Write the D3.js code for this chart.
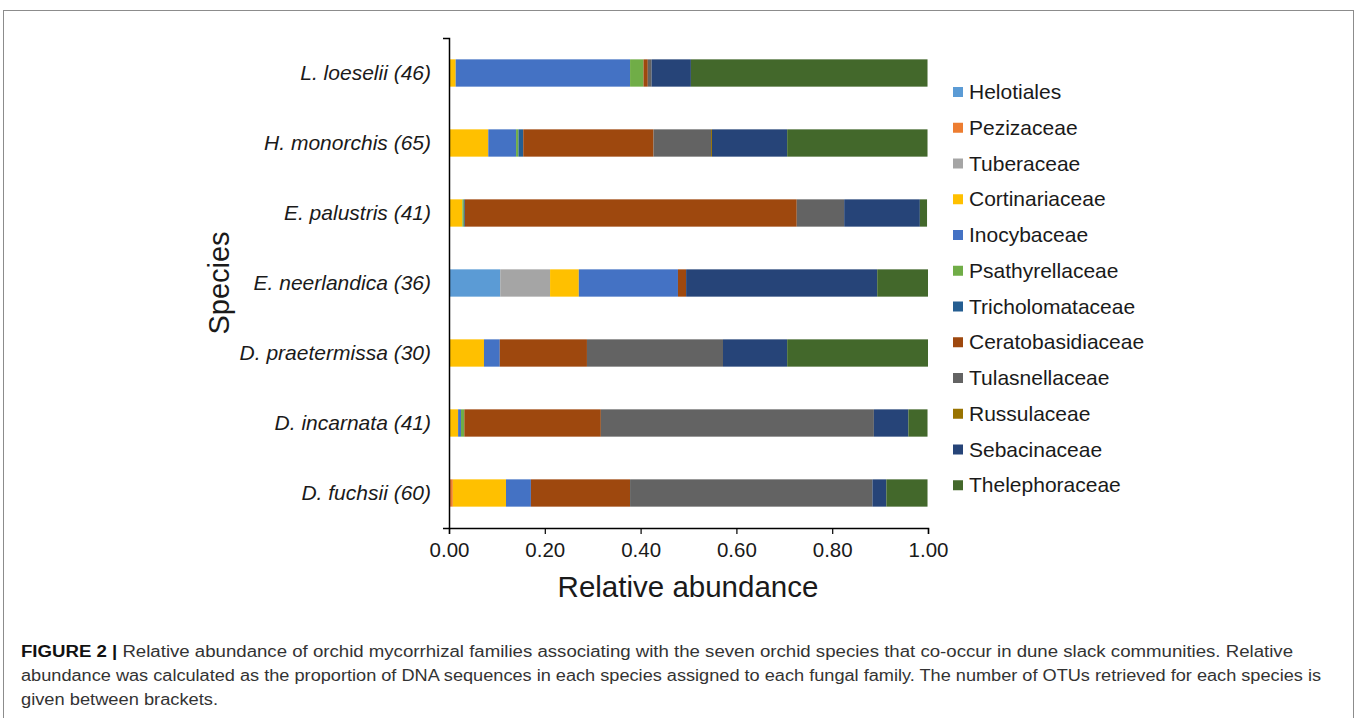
<!DOCTYPE html>
<html>
<head>
<meta charset="utf-8">
<script src="https://cdn.jsdelivr.net/npm/d3@7/dist/d3.min.js"></script>
<style>
  body { margin: 0; background: #fff; }
  svg { display: block; font-family: "Liberation Sans", Arial, sans-serif; }
</style>
</head>
<body>
<svg id="chart" width="1357" height="718"></svg>
<script>
// species, top to bottom
var species = ["L. loeselii (46)", "H. monorchis (65)", "E. palustris (41)", "E. neerlandica (36)",
               "D. praetermissa (30)", "D. incarnata (41)", "D. fuchsii (60)"];

var families = ["Helotiales", "Pezizaceae", "Tuberaceae", "Cortinariaceae", "Inocybaceae", "Psathyrellaceae",
                "Tricholomataceae", "Ceratobasidiaceae", "Tulasnellaceae", "Russulaceae", "Sebacinaceae", "Thelephoraceae"];

var colors = ["#5b9bd5", "#ed7d31", "#a5a5a5", "#ffc000", "#4472c4", "#70ad47",
              "#255e91", "#9e480e", "#636363", "#997300", "#264478", "#43682b"];

// one array per family, values in species order
var helotiales        = [0,     0,     0,     0.107, 0,     0,     0];
var pezizaceae        = [0,     0,     0,     0,     0,     0,     0.008];
var tuberaceae        = [0,     0,     0,     0.104, 0,     0,     0];
var cortinariaceae    = [0.014, 0.082, 0.028, 0.060, 0.073, 0.019, 0.111];
var inocybaceae       = [0.364, 0.058, 0,     0.207, 0.033, 0.006, 0.052];
var psathyrellaceae   = [0.028, 0.005, 0.003, 0,     0,     0.007, 0];
var tricholomataceae  = [0,     0.010, 0.002, 0,     0,     0,     0];
var ceratobasidiaceae = [0.009, 0.272, 0.693, 0.017, 0.182, 0.285, 0.207];
var tulasnellaceae    = [0.008, 0.120, 0.099, 0,     0.284, 0.570, 0.506];
var russulaceae       = [0,     0.002, 0,     0,     0,     0,     0];
var sebacinaceae      = [0.082, 0.157, 0.158, 0.399, 0.134, 0.072, 0.029];
var thelephoraceae    = [0.494, 0.293, 0.015, 0.106, 0.294, 0.040, 0.086];

var xTicks = [0, 0.2, 0.4, 0.6, 0.8, 1.0];

var series = [helotiales, pezizaceae, tuberaceae, cortinariaceae, inocybaceae, psathyrellaceae,
              tricholomataceae, ceratobasidiaceae, tulasnellaceae, russulaceae, sebacinaceae, thelephoraceae];

// table for the stack layout
var rows = species.map(function(s, i) {
  var r = { species: s };
  families.forEach(function(f, j) { r[f] = series[j][i]; });
  return r;
});

var svg = d3.select("#chart");

// figure frame
svg.append("rect").attr("x", 3.5).attr("y", 10.5).attr("width", 1350).attr("height", 720)
  .attr("fill", "none").attr("stroke", "#8c8c8c").attr("stroke-width", 1);

var x = d3.scaleLinear().domain([0, 1]).range([449, 928]);
var y = d3.scaleBand().domain(species).range([38, 528]).paddingInner(0.61).paddingOuter(0.305);

var stack = d3.stack().keys(families);
var layers = stack(rows);

var color = d3.scaleOrdinal().domain(families).range(colors);

svg.append("g").selectAll("g")
  .data(layers)
  .join("g")
  .attr("fill", function(d) { return color(d.key); })
  .selectAll("rect")
  .data(function(d) { return d; })
  .join("rect")
  .attr("x", function(d) { return x(d[0]); })
  .attr("y", function(d) { return y(d.data.species); })
  .attr("width", function(d) { return Math.max(0, x(d[1]) - x(d[0])); })
  .attr("height", y.bandwidth());

// x axis
var xAxis = svg.append("g").attr("transform", "translate(0,528)")
  .call(d3.axisBottom(x).tickValues(xTicks).tickFormat(d3.format(".2f")).tickSize(6).tickPadding(8));
xAxis.select(".domain").attr("stroke", "#000").attr("stroke-width", 1.5);
xAxis.selectAll(".tick line").attr("stroke", "#000").attr("stroke-width", 1.2);
xAxis.selectAll("text").attr("font-size", 20.5).attr("fill", "#1a1a1a")
  .attr("font-family", "Liberation Sans, Arial, sans-serif");

// y axis: ticks only at the ends
var yAxis = svg.append("g").attr("transform", "translate(449,0)")
  .call(d3.axisLeft(y).tickSizeInner(0).tickSizeOuter(6).tickPadding(18));
yAxis.select(".domain").attr("stroke", "#000").attr("stroke-width", 1.5);
yAxis.selectAll("text").attr("font-size", 21).attr("font-style", "italic").attr("fill", "#1a1a1a")
  .attr("font-family", "Liberation Sans, Arial, sans-serif");

// axis titles
svg.append("text").attr("x", 688).attr("y", 597).attr("text-anchor", "middle")
  .attr("font-size", 29.5).attr("fill", "#1a1a1a").text("Relative abundance");
svg.append("text").attr("transform", "translate(229,283) rotate(-90)").attr("text-anchor", "middle")
  .attr("font-size", 29).attr("fill", "#1a1a1a").text("Species");

// legend
var legend = svg.append("g").selectAll("g")
  .data(families)
  .join("g")
  .attr("transform", function(d, i) { return "translate(953," + (92 + i * 35.75) + ")"; });
legend.append("rect").attr("x", 0).attr("y", -5).attr("width", 10).attr("height", 10)
  .attr("fill", function(d) { return color(d); });
legend.append("text").attr("x", 16).attr("y", 7).attr("font-size", 21).attr("fill", "#1a1a1a")
  .text(function(d) { return d; });

// caption
var cap = svg.append("g").attr("font-size", 16).attr("fill", "#333");
var l1 = cap.append("text").attr("x", 21).attr("y", 657).attr("textLength", 1272).attr("lengthAdjust", "spacingAndGlyphs");
l1.append("tspan").attr("font-weight", "bold").attr("fill", "#111").text("FIGURE 2 | ");
l1.append("tspan").text("Relative abundance of orchid mycorrhizal families associating with the seven orchid species that co-occur in dune slack communities. Relative");
cap.append("text").attr("x", 21).attr("y", 681).attr("textLength", 1300).attr("lengthAdjust", "spacingAndGlyphs")
  .text("abundance was calculated as the proportion of DNA sequences in each species assigned to each fungal family. The number of OTUs retrieved for each species is");
cap.append("text").attr("x", 21).attr("y", 705).attr("textLength", 197).attr("lengthAdjust", "spacingAndGlyphs")
  .text("given between brackets.");
</script>
</body>
</html>
